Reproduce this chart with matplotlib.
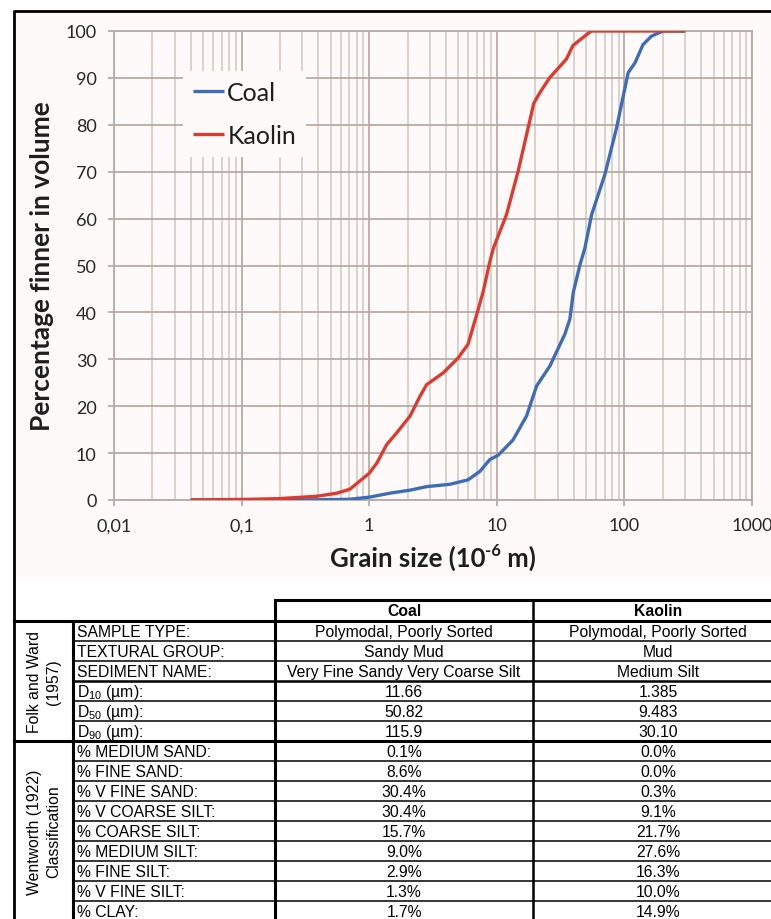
import matplotlib
matplotlib.use("Agg")
import matplotlib.pyplot as plt
from matplotlib.ticker import FixedLocator, FixedFormatter, LogLocator, NullFormatter

plt.rcParams['mathtext.fontset'] = 'custom'
plt.rcParams['mathtext.rm'] = 'Liberation Sans'
plt.rcParams['mathtext.bf'] = 'Liberation Sans:bold'

# ---------------- data ----------------
coal_size = [0.04, 0.2, 0.4, 0.7, 1.0, 1.45, 2.09, 2.82, 4.29, 5.95, 7.37, 8.8, 10.3,
             13.4, 17.1, 20.5, 26.1, 34.2, 37.4, 39.8, 44.8, 49.0, 55.3, 70.3, 86.9,
             107, 121, 140, 163, 201, 300]
coal_pct = [0, 0, 0.05, 0.15, 0.6, 1.45, 2.1, 2.85, 3.35, 4.3, 6.1, 8.6, 9.6,
            12.8, 17.9, 24.3, 28.6, 35.4, 38.6, 44.3, 50.1, 53.7, 60.8, 69.4, 79.4,
            91.1, 93.2, 97.1, 98.9, 100, 100]
kaolin_size = [0.04, 0.117, 0.2, 0.39, 0.556, 0.706, 1.0, 1.15, 1.37, 1.64, 2.09, 2.5,
               2.82, 3.8, 4.98, 5.95, 6.92, 7.8, 8.8, 9.4, 11.9, 14.7, 17.9, 19.5,
               21.7, 25.9, 35.1, 39.5, 47.3, 55, 300]
kaolin_pct = [0, 0.15, 0.3, 0.8, 1.45, 2.3, 5.7, 7.9, 11.8, 14.3, 17.9, 22.1,
              24.6, 27.1, 30.3, 33.2, 39.3, 44.3, 50.7, 53.7, 60.8, 70.1, 80.2, 84.6,
              86.8, 90, 94, 96.9, 98.6, 100, 100]
series_names = ["Coal", "Kaolin"]

x_ticks = [0.01, 0.1, 1, 10, 100, 1000]
x_tick_labels = ["0,01", "0,1", "1", "10", "100", "1000"]
y_ticks = list(range(0, 101, 10))

table_header = ["Coal", "Kaolin"]
folk_labels = ["SAMPLE TYPE:", "TEXTURAL GROUP:", "SEDIMENT NAME:",
               "D$_{10}$ (\u00b5m):", "D$_{50}$ (\u00b5m):", "D$_{90}$ (\u00b5m):"]
folk_coal = ["Polymodal, Poorly Sorted", "Sandy Mud", "Very Fine Sandy Very Coarse Silt",
             "11.66", "50.82", "115.9"]
folk_kaolin = ["Polymodal, Poorly Sorted", "Mud", "Medium Silt", "1.385", "9.483", "30.10"]
went_labels = ["% MEDIUM SAND:", "% FINE SAND:", "% V FINE SAND:", "% V COARSE SILT:",
               "% COARSE SILT:", "% MEDIUM SILT:", "% FINE SILT:", "% V FINE SILT:", "% CLAY:"]
went_coal = ["0.1%", "8.6%", "30.4%", "30.4%", "15.7%", "9.0%", "2.9%", "1.3%", "1.7%"]
went_kaolin = ["0.0%", "0.0%", "0.3%", "9.1%", "21.7%", "27.6%", "16.3%", "10.0%", "14.9%"]
group_names = ["Folk and Ward\n(1957)", "Wentworth (1922)\nClassification"]

# ---------------- figure ----------------
W, H = 771, 920
fig = plt.figure(figsize=(W / 100, H / 100), dpi=100)
fig.patch.set_facecolor('white')

bg = fig.add_axes([0, 0, 1, 1], zorder=0)
bg.set_xlim(0, W)
bg.set_ylim(H, 0)
bg.axis('off')

chart_bg = '#FDFAF9'
bg.add_patch(plt.Rectangle((14, 12), W - 14, 567, color=chart_bg, zorder=0, lw=0))
# outer frame
bg.plot([13.5, 13.5], [11, H + 5], color='black', lw=2.0, solid_capstyle='butt')
bg.plot([13.5, W + 5], [11.5, 11.5], color='black', lw=2.0, solid_capstyle='butt')

# ---------------- chart ----------------
ax = fig.add_axes([114 / W, 1 - 501 / H, (752 - 114) / W, (501 - 32) / H], zorder=2)
ax.set_facecolor(chart_bg)
ax.set_xscale('log')
ax.set_xlim(0.01, 1000)
ax.set_ylim(0, 100)

major_c = '#B9AAA3'
minor_c = '#D8CEC9'
ax.xaxis.set_major_locator(FixedLocator(x_ticks))
ax.xaxis.set_major_formatter(FixedFormatter(x_tick_labels))
ax.xaxis.set_minor_locator(LogLocator(base=10, subs=range(2, 10), numticks=20))
ax.xaxis.set_minor_formatter(NullFormatter())
ax.yaxis.set_major_locator(FixedLocator(y_ticks))
ax.grid(which='major', axis='both', color=major_c, lw=1.3)
ax.grid(which='minor', axis='x', color=minor_c, lw=1.3)
ax.set_axisbelow(True)
for s in ax.spines.values():
    s.set_color(major_c)
    s.set_linewidth(1.3)
ax.tick_params(axis='both', which='major', length=4.5, color=major_c, width=1.3,
               labelcolor='#262626', labelsize=13, pad=8)
ax.tick_params(axis='x', which='minor', length=0)
for lab in ax.get_xticklabels() + ax.get_yticklabels():
    lab.set_fontfamily('Lato')

ax.plot(coal_size, coal_pct, color='#3E6CB6', lw=2.4, label=series_names[0],
        solid_capstyle='butt', zorder=3)
ax.plot(kaolin_size, kaolin_pct, color='#DC3B2F', lw=2.4, label=series_names[1],
        solid_capstyle='butt', zorder=4)

leg = ax.legend(loc='upper left', bbox_to_anchor=(183 / W, 1 - 72 / H),
                bbox_transform=fig.transFigure, frameon=True, fancybox=False,
                prop=dict(family='Lato', size=18), handlelength=1.25,
                handletextpad=0.12, labelspacing=0.8, borderpad=0.4,
                borderaxespad=0)
leg.get_frame().set_facecolor(chart_bg)
leg.get_frame().set_edgecolor('none')
leg.get_frame().set_alpha(1)
for t in leg.get_texts():
    t.set_color('#1e1e1e')

lab_font = dict(family='Lato', weight='bold', color='#1e1e1e')
fig.text(42 / W, 1 - 266 / H, "Percentage finner in volume", rotation=90,
         ha='center', va='center', size=19, **lab_font)

# x label with a hyphen superscript, assembled from three pieces
renderer = fig.canvas.get_renderer()
xl_y = 1 - 558 / H
parts = [("Grain size (10", 18.5, 0.0), ("-6", 12, 7.0), (" m)", 18.5, 0.0)]
texts = []
for s, sz, dy in parts:
    t = fig.text(0, xl_y + dy / H, s, ha='left', va='center', size=sz, **lab_font)
    texts.append(t)
widths = [t.get_window_extent(renderer).width for t in texts]
x_start = 433 - sum(widths) / 2
for t, w in zip(texts, widths):
    t.set_x(x_start / W)
    x_start += w

# ---------------- table ----------------
tf = dict(family='Liberation Sans', size=11.3, color='black')
x0, x1, x2, x3, xr = 13.5, 73, 275, 533, W + 5
y_head, y_data = 601, 622
rh = 20
thin, thick = 1.1, 2.2

# header
bg.plot([x2, xr], [y_head, y_head], color='black', lw=thick)
bg.text((x2 + x3) / 2, (y_head + y_data) / 2 + 0.5, table_header[0], ha='center',
        va='center', weight='bold', **tf)
bg.text((x3 + 783) / 2, (y_head + y_data) / 2 + 0.5, table_header[1], ha='center',
        va='center', weight='bold', **tf)

rows_lab = folk_labels + went_labels
rows_coal = folk_coal + went_coal
rows_kao = folk_kaolin + went_kaolin
n_folk = len(folk_labels)
n_rows = len(rows_lab)

for i in range(n_rows + 1):
    y = y_data + i * rh
    if i in (0, n_folk):
        bg.plot([x0, xr], [y, y], color='black', lw=thick)
    elif i == 3:
        bg.plot([x1, xr], [y, y], color='black', lw=1.8)
    else:
        bg.plot([x1, xr], [y, y], color='black', lw=thin)

for i in range(n_rows):
    yc = y_data + i * rh + rh / 2 + 0.5
    bg.text(x1 + 4, yc, rows_lab[i], ha='left', va='center', **tf)
    bg.text(404, yc, rows_coal[i], ha='center', va='center', **tf)
    bg.text(658, yc, rows_kao[i], ha='center', va='center', **tf)

bg.plot([x1, x1], [y_data, H + 5], color='black', lw=thick, solid_capstyle='butt')
bg.plot([x2, x2], [y_head, H + 5], color='black', lw=thick, solid_capstyle='butt')
bg.plot([x3, x3], [y_head, H + 5], color='black', lw=1.8, solid_capstyle='butt')

bg.text((x0 + x1) / 2 + 1, y_data + n_folk * rh / 2, group_names[0], rotation=90,
        ha='center', va='center', multialignment='center', linespacing=1.3, **tf)
bg.text((x0 + x1) / 2 + 1, y_data + n_folk * rh + 90, group_names[1], rotation=90,
        ha='center', va='center', multialignment='center', linespacing=1.3, **tf)

fig.savefig("out.png", dpi=100, facecolor='white')
